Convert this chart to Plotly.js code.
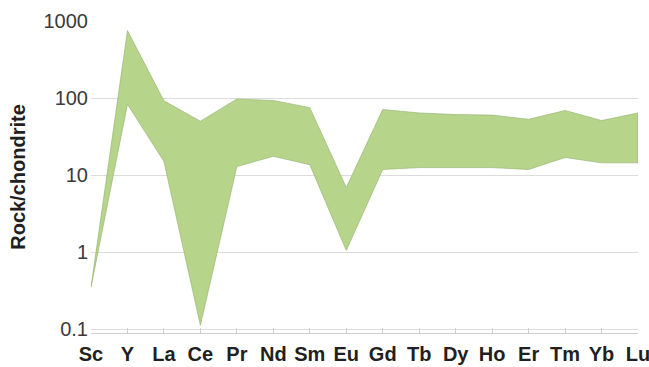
<!DOCTYPE html>
<html>
<head>
<meta charset="utf-8">
<script src="https://cdn.plot.ly/plotly-3.0.1.min.js"></script>
<style>html,body{margin:0;padding:0;background:#fff}#chart{width:649px;height:367px}</style>
</head>
<body>
<div id="chart"></div>
<script>
const elements = ["Sc","Y","La","Ce","Pr","Nd","Sm","Eu","Gd","Tb","Dy","Ho","Er","Tm","Yb","Lu"];
const upperValues = [0.35, 750, 92, 50, 97, 93, 75, 6.9, 71, 64, 61, 60, 53, 69, 51, 64];
const lowerValues = [0.35, 83, 15, 0.112, 12.9, 17.5, 13.6, 1.05, 11.8, 12.5, 12.6, 12.5, 11.8, 16.9, 14.4, 14.4];
const yTickValues = [0.1, 1, 10, 100, 1000];
const yTickLabels = ["0.1", "1", "10", "100", "1000"];

const polyX = elements.concat(elements.slice().reverse());
const polyY = upperValues.concat(lowerValues.slice().reverse());

const trace = {
  type: "scatter",
  mode: "lines",
  x: polyX,
  y: polyY,
  fill: "toself",
  fillcolor: "#b6d58b",
  line: {color: "#8fae6a", width: 0.6},
  hoverinfo: "skip",
  showlegend: false
};

const layout = {
  width: 649,
  height: 367,
  margin: {l: 91, r: 11, t: 21, b: 34},
  paper_bgcolor: "#ffffff",
  plot_bgcolor: "#ffffff",
  font: {family: "Liberation Sans, Arial, sans-serif"},
  xaxis: {
    type: "category",
    categoryorder: "array",
    categoryarray: elements,
    range: [0, 15],
    showgrid: false,
    showline: true,
    linecolor: "#d0d0d0",
    linewidth: 1,
    ticks: "inside",
    ticklen: 5,
    tickcolor: "#d0d0d0",
    ticklabelstandoff: 3,
    tickfont: {size: 20, color: "#231f20", family: "Liberation Sans, Arial, sans-serif", weight: "bold"},
    zeroline: false,
    fixedrange: true
  },
  yaxis: {
    type: "log",
    range: [Math.log10(0.089), 3],
    tickvals: yTickValues,
    ticktext: yTickLabels,
    showgrid: true,
    gridcolor: "#dcdcdc",
    gridwidth: 1,
    showline: false,
    zeroline: false,
    ticks: "",
    ticklabelstandoff: 2,
    tickfont: {size: 20, color: "#3a3a3a", family: "Liberation Sans, Arial, sans-serif"},
    title: {text: "<b>Rock/chondrite</b>", font: {size: 20, color: "#231f20", family: "Liberation Sans, Arial, sans-serif"}, standoff: 12},
    fixedrange: true
  }
};

Plotly.newPlot("chart", [trace], layout, {displayModeBar: false, staticPlot: true});
</script>
</body>
</html>
